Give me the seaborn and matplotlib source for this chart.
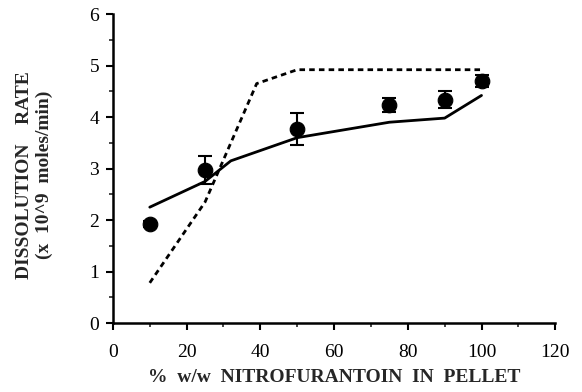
import numpy as np
import pandas as pd
import seaborn as sns
import matplotlib.pyplot as plt
from matplotlib.ticker import MultipleLocator

# measured dissolution rates (points with error bars)
pct = [10, 25, 50, 75, 90, 100]
rate = [1.92, 2.97, 3.77, 4.24, 4.34, 4.70]
err = [0.06, 0.27, 0.31, 0.14, 0.17, 0.12]

# model curves
solid_x = [10, 25, 32, 50, 75, 90, 100]
solid_y = [2.25, 2.75, 3.15, 3.60, 3.90, 3.98, 4.42]
dash_x = [10, 25, 39, 50, 100]
dash_y = [0.78, 2.35, 4.65, 4.92, 4.92]

sns.set_style("ticks")
plt.rcParams["font.family"] = ["Liberation Serif", "DejaVu Serif"]

fig = plt.figure(figsize=(5.82, 3.92), dpi=100)
ax = fig.add_axes([0.194, 0.176, 0.76, 0.788])

sns.lineplot(x=solid_x, y=solid_y, ax=ax, color="black", lw=2)
sns.lineplot(x=dash_x, y=dash_y, ax=ax, color="black", lw=2,
             linestyle=(0, (2, 1.5)))
ax.errorbar(pct, rate, yerr=err, fmt="none", ecolor="black",
            elinewidth=1.5, capsize=5, capthick=1.5)
sns.scatterplot(x=pct, y=rate, ax=ax, color="black", s=110,
                edgecolor="black", zorder=5)

ax.set_xlim(0, 120)
ax.set_ylim(0, 6)
ax.xaxis.set_major_locator(MultipleLocator(20))
ax.xaxis.set_minor_locator(MultipleLocator(10))
ax.yaxis.set_major_locator(MultipleLocator(1))
ax.yaxis.set_minor_locator(MultipleLocator(0.5))
ax.tick_params(which="major", direction="out", length=5, width=1.5,
               labelsize=14, colors="black")
ax.tick_params(which="minor", direction="out", length=3, width=1.2)
ax.tick_params(axis="x", which="major", pad=10)
ax.tick_params(axis="y", which="major", pad=5)
for s in ["left", "bottom"]:
    ax.spines[s].set_linewidth(1.8)
    ax.spines[s].set_color("black")
sns.despine(ax=ax)

ax.set_xlabel("%  w/w  NITROFURANTOIN  IN  PELLET", fontsize=14,
              fontweight="bold", labelpad=6)
ax.set_ylabel("DISSOLUTION    RATE\n(x  10^9  moles/min)", fontsize=14,
              fontweight="bold", linespacing=1.2)
ax.yaxis.set_label_coords(-0.136, 0.48)

fig.savefig("out.png", dpi=100)
